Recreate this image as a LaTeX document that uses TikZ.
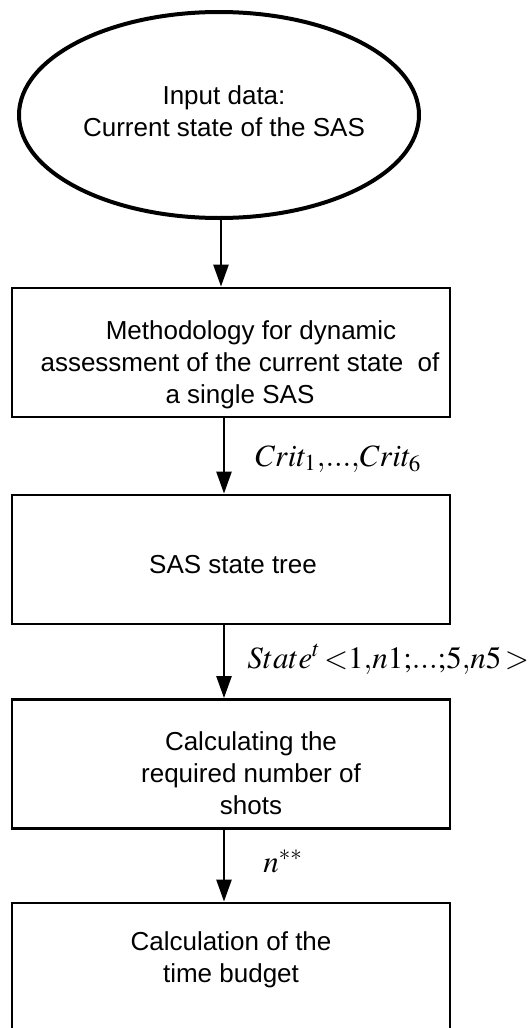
\documentclass[tikz,border=0pt]{standalone}
\usepackage{mathptmx}
\usepackage[no-math]{fontspec}
\setmainfont{Liberation Sans}
\usetikzlibrary{shapes.geometric,arrows.meta,positioning}

\begin{document}
\begin{tikzpicture}[x=0.5pt,y=-0.5pt,
    block/.style={draw,line width=1.4pt,minimum width=219pt,minimum height=64.5pt,inner sep=0pt},
    lbl/.style={font=\fontsize{13}{16}\selectfont,align=center},
    flow/.style={-{Triangle[length=11pt,width=7.5pt]},line width=1.25pt},
    var/.style={font=\fontsize{15.5}{18}\selectfont,anchor=base west,inner sep=0pt}]
    \useasboundingbox (0,0) rectangle (527,1028);

    % Input data
    \node[ellipse,draw,line width=2pt,minimum width=200pt,minimum height=103pt,inner sep=0pt] (input) at (219,115) {};
    \node[lbl] (inputtxt) at (224,111) {Input data:\\Current state of the SAS};

    % Methodology
    \node[block] (method) at (231,352.5) {};
    \node[lbl] (methodtxt) at (240,365) {\hspace*{11pt}Methodology for dynamic\\assessment of the current state~ of\\a single SAS};

    % State tree
    \node[block] (tree) at (231,559.5) {};
    \node[lbl] (treetxt) at (233,565) {SAS state tree};

    % Number of shots
    \node[block] (shots) at (231,764) {};
    \node[lbl] (shotstxt) at (251,773) {Calculating the\\required number of\\shots};

    % Time budget
    \node[block] (budget) at (231,967.5) {};
    \node[lbl] (budgettxt) at (231,960) {Calculation of the\\time budget};

    % Flow
    \draw[flow] ([xshift=1pt]input.south) -- ([xshift=1pt]input.south |- method.north);
    \draw[flow] ([xshift=-3.5pt]method.south) -- ([xshift=-3.5pt]tree.north);
    \draw[flow] ([xshift=-3.5pt]tree.south) -- ([xshift=-3.5pt]shots.north);
    \draw[flow] ([xshift=-3.5pt]shots.south) -- ([xshift=-3.5pt]budget.north);

    % Variables passed on
    \node[var] (crit) at (255,466) {$Crit_{1}{,}{...}{,}Crit_{6}$};
    \node[var] (state) at (247,668) {$State^{t}\,{<}1{,}n1{;}{...}{;}5{,}n5\,{>}$};
    \node[var] (nstar) at (263,872) {$n^{**}$};
\end{tikzpicture}
\end{document}
